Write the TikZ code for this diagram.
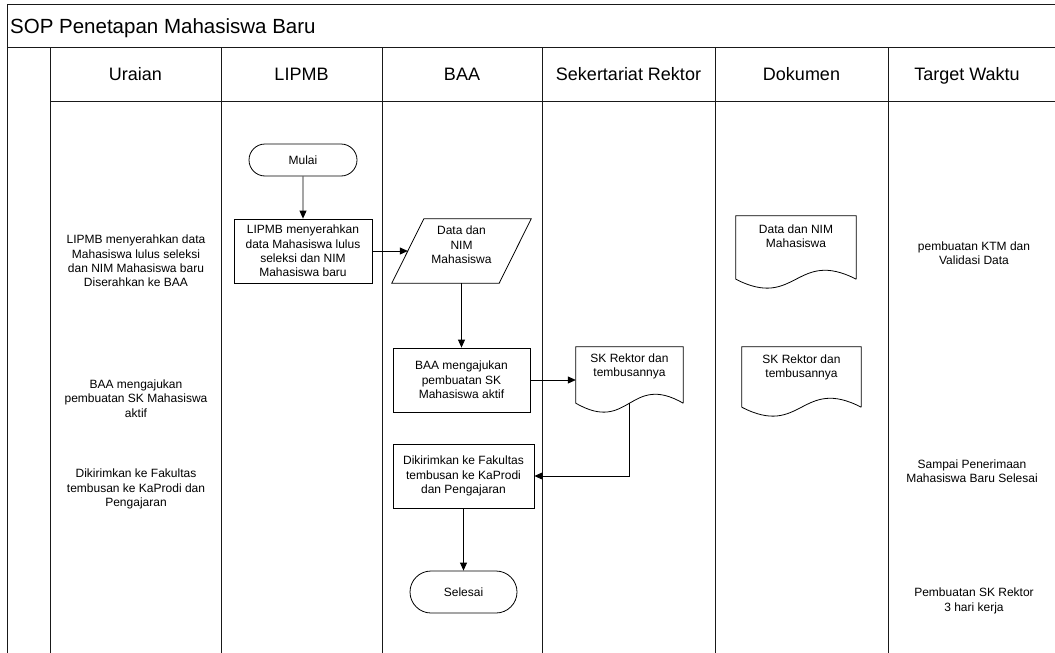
\documentclass[tikz,border=0pt]{standalone}
\usepackage{fontspec}
\setmainfont{Liberation Sans}
\usetikzlibrary{arrows.meta,shapes.misc,calc}

\begin{document}
\begin{tikzpicture}[x=1pt,y=-1pt,
  grid/.style={line width=0.9pt, draw=black!90},
  outline/.style={draw=black, line width=0.8pt},
  body/.style={font=\fontsize{12}{14.4}\selectfont, align=center, inner sep=0pt},
  head/.style={font=\fontsize{18}{21}\selectfont, inner sep=0pt, anchor=base},
  procbox/.style={outline, body, rectangle},
  terminal/.style={outline, body, rounded rectangle},
  frameonly/.style={rectangle, draw=none, inner sep=0pt},
  arr/.style={-{Triangle[length=8pt,width=7pt]}, line width=0.8pt},
]
\useasboundingbox (0,0) rectangle (1055,653);

% swimlane grid
\draw[grid] (7,653) -- (7,4) -- (1055,4);
\draw[grid] (7,47) -- (1055,47);
\draw[grid] (50,101) -- (1055,101);
\foreach \lx in {50,221,382,542,715,888}
  \draw[grid] (\lx,47) -- (\lx,653);

% title and lane headers
\node[anchor=base west, inner sep=0pt, font=\fontsize{20.5}{24}\selectfont] (title) at (10,33.3) {SOP Penetapan Mahasiswa Baru};
\node[head] (h1) at (135.5,80.5) {Uraian};
\node[head] (h2) at (301.5,80.5) {LIPMB};
\node[head] (h3) at (462,80.5) {BAA};
\node[head] (h4) at (628.5,80.5) {Sekertariat Rektor};
\node[head] (h5) at (801.5,80.5) {Dokumen};
\node[head] (h6) at (967,80.5) {Target Waktu};

% descriptions
\node[body] (u1) at (136,261) {LIPMB menyerahkan data\\Mahasiswa lulus seleksi\\dan NIM Mahasiswa baru\\Diserahkan ke BAA};
\node[body] (u2) at (136,398.5) {BAA mengajukan\\pembuatan SK Mahasiswa\\aktif};
\node[body] (u3) at (136,489) {Dikirimkan ke Fakultas\\tembusan ke KaProdi dan\\Pengajaran};

% target times
\node[body] (t1) at (974,253) {pembuatan KTM dan\\Validasi Data};
\node[body] (t2) at (972,471) {Sampai Penerimaan\\Mahasiswa Baru Selesai};
\node[body] (t3) at (974,601) {Pembuatan SK Rektor\\3 hari kerja};

% flow
\node[terminal, minimum width=108pt, minimum height=32pt] (mulai) at (303,160) {Mulai};
\node[procbox, minimum width=138pt, minimum height=64pt] (lipmb) at (303,251)
  {LIPMB menyerahkan\\data Mahasiswa lulus\\seleksi dan NIM\\Mahasiswa baru};
\node[frameonly, minimum width=139pt, minimum height=64pt] (data) at (461.5,251) {};
\draw[outline] (data.south west) -- ($(data.north west)+(32,0)$) -- (data.north east)
  -- ($(data.south east)+(-32,0)$) -- cycle;
\coordinate (datain) at ($(data.west)+(16,0)$);
\node[body] (datatext) at ($(data)+(0,-6)$) {Data dan\\NIM\\Mahasiswa};
\node[procbox, minimum width=137pt, minimum height=64pt] (baa) at (461.5,380)
  {BAA mengajukan\\pembuatan SK\\Mahasiswa aktif};
\node[frameonly, minimum width=107pt, minimum height=56pt] (skr) at (629.5,375) {};
\node[procbox, minimum width=141pt, minimum height=64pt] (kirim) at (463.5,476)
  {Dikirimkan ke Fakultas\\tembusan ke KaProdi\\dan Pengajaran};
\node[terminal, minimum width=107pt, minimum height=42pt] (selesai) at (463.5,592) {Selesai};

% documents
\node[frameonly, minimum width=120pt, minimum height=63pt] (docdata) at (796,247.5) {};
\node[frameonly, minimum width=119pt, minimum height=60pt] (docsk) at (801.5,377) {};

\foreach \d in {skr,docdata,docsk}
  \draw[outline] (\d.south east) -- (\d.north east) -- (\d.north west) -- (\d.south west)
    .. controls ($(\d.south)+(0,31)$) and ($(\d.south)+(0,-31)$) .. (\d.south east);

\node[body, anchor=north] (skrtext) at ($(skr.north)+(0,6.5)$) {SK Rektor dan\\tembusannya};
\node[body, anchor=north] (docdatatext) at ($(docdata.north)+(0,8.8)$) {Data dan NIM\\Mahasiswa};
\node[body, anchor=north] (docsktext) at ($(docsk.north)+(0,7.5)$) {SK Rektor dan\\tembusannya};

% connectors
\draw[arr] (mulai) -- (lipmb);
\draw[arr] (lipmb) -- (datain);
\draw[arr] (data.south) -- (baa);
\draw[arr] (baa) -- (baa -| skr.west);
\draw[arr] (skr.south) |- (kirim);
\draw[arr] (kirim) -- (selesai);
\end{tikzpicture}
\end{document}
